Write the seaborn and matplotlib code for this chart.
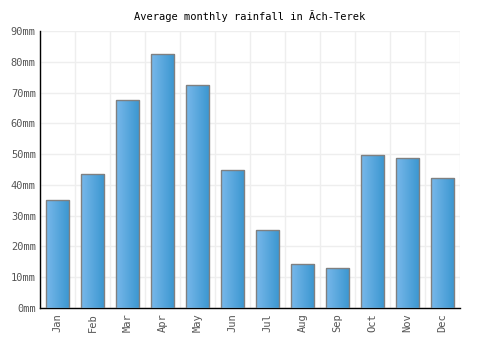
import numpy as np
import pandas as pd
import matplotlib
matplotlib.use('Agg')
import matplotlib.pyplot as plt
from matplotlib.colors import LinearSegmentedColormap
import seaborn as sns

MONTHS = ['Jan', 'Feb', 'Mar', 'Apr', 'May', 'Jun',
          'Jul', 'Aug', 'Sep', 'Oct', 'Nov', 'Dec']
RAINFALL = [35.1, 43.5, 67.6, 82.5, 72.4, 44.8, 25.3, 14.3, 13.0, 49.7, 48.7, 42.2]
Y_TICKS = list(range(0, 91, 10))
TITLE = "Average monthly rainfall in \u00c3ch-Terek"

sns.set_style('white')
plt.rcParams['font.family'] = ['DejaVu Sans Mono', 'DejaVu Sans']

df = pd.DataFrame({'month': MONTHS, 'rain': RAINFALL})

fig = plt.figure(figsize=(5, 3.5), dpi=100)
ax = fig.add_axes([0.08, 0.12, 0.84, 0.791])

sns.barplot(data=df, x='month', y='rain', ax=ax, color='#4a9fdc',
            width=0.66, edgecolor='#808080', linewidth=1.0, zorder=3)

# horizontal gradient on each bar, light left -> darker right
grad = LinearSegmentedColormap.from_list('bar', ['#78b8ea', '#3a96d0'])
gimg = np.linspace(0, 1, 64).reshape(1, -1)
for p in ax.patches:
    x0, y0 = p.get_x(), p.get_y()
    w, h = p.get_width(), p.get_height()
    im = ax.imshow(gimg, cmap=grad, aspect='auto', zorder=3.5,
                   extent=[x0, x0 + w, y0, y0 + h], interpolation='bilinear')
    im.set_clip_path(p)
    p.set_facecolor('none')
    p.set_zorder(4)

ax.set_xlim(-0.5, len(MONTHS) - 0.5)
ax.set_ylim(0, 90)
ax.set_yticks(Y_TICKS)
ax.set_yticklabels([f'{v}mm' for v in Y_TICKS])
ax.set_xticks(np.arange(len(MONTHS) + 1) - 0.5, minor=True)
ax.grid(True, which='minor', axis='x', color='#eeeeee', linewidth=1, zorder=0)
ax.grid(True, which='major', axis='y', color='#eeeeee', linewidth=1, zorder=0)
ax.set_axisbelow(True)

ax.tick_params(axis='x', which='major', rotation=90, labelsize=7.5,
               colors='#555555', length=0, pad=4)
ax.tick_params(axis='y', labelsize=7.5, colors='#555555', length=0, pad=3)
ax.tick_params(which='minor', length=0)
for lbl in ax.get_xticklabels() + ax.get_yticklabels():
    lbl.set_color('#555555')

ax.set_xlabel('')
ax.set_ylabel('')
for s in ['top', 'right']:
    ax.spines[s].set_visible(False)
for s in ['left', 'bottom']:
    ax.spines[s].set_color('black')
    ax.spines[s].set_linewidth(1)

fig.text(0.5, 0.955, TITLE, ha='center', va='center', fontsize=7.5, color='black')

fig.savefig('out.png', dpi=100, facecolor='white')
